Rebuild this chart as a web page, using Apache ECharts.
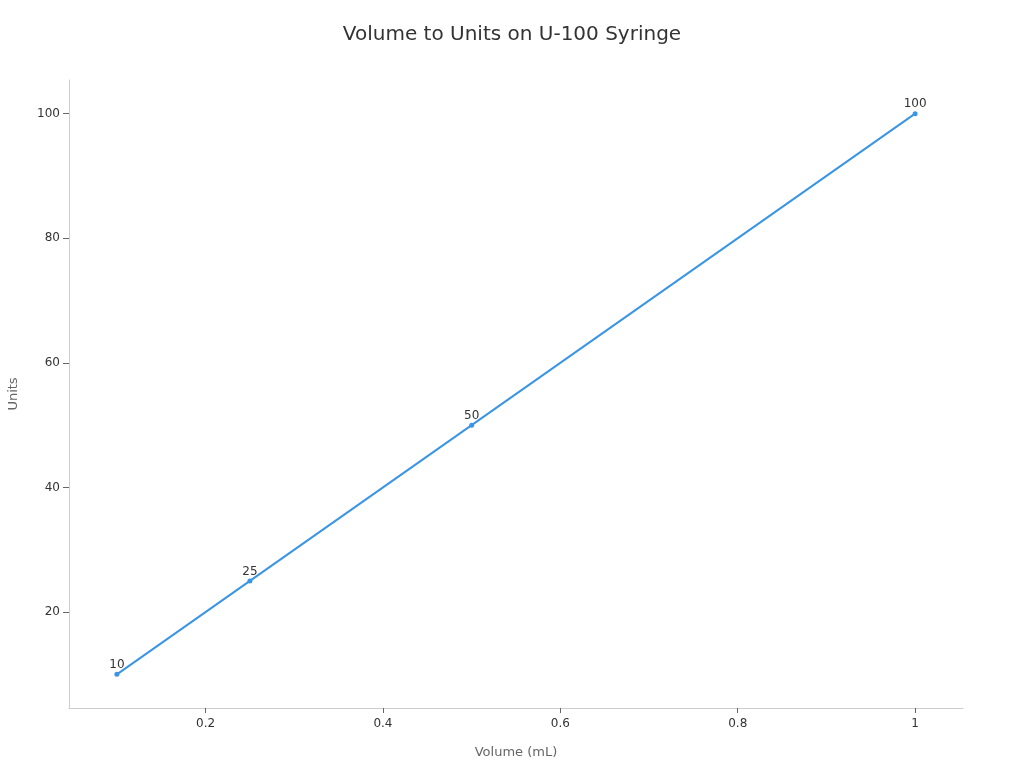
<!DOCTYPE html>
<html>
<head>
<meta charset="utf-8">
<script src="https://cdn.jsdelivr.net/npm/echarts@6/dist/echarts.min.js"></script>
<style>
  html, body { margin: 0; padding: 0; background: #fff; }
  #chart { width: 1024px; height: 768px; }
</style>
</head>
<body>
<div id="chart"></div>
<script>
// 数据：U-100 注射器的容量与单位
const volumes = [0.1, 0.25, 0.5, 1];
const units = [10, 25, 50, 100];
const xTicks = [0.2, 0.4, 0.6, 0.8, 1];
const yTicks = [20, 40, 60, 80, 100];

const chart = echarts.init(document.getElementById('chart'));

const option = {
  backgroundColor: '#ffffff',
  animation: false,
  textStyle: { fontFamily: 'DejaVu Sans' },
  title: {
    text: 'Volume to Units on U-100 Syringe',
    left: 'center',
    top: 20,
    textStyle: { fontSize: 20, fontWeight: 'normal', color: '#333' }
  },
  grid: { left: 69, right: 61, top: 80, bottom: 60, outerBoundsMode: 'none', containLabel: false },
  xAxis: {
    type: 'value',
    min: 0.046,
    max: 1.054,
    interval: 0.2,
    name: 'Volume (mL)',
    nameLocation: 'middle',
    nameGap: 38,
    nameTextStyle: { fontSize: 13, color: '#666' },
    axisLine: { show: true, lineStyle: { color: '#ccc' } },
    axisTick: { show: true, length: 5, lineStyle: { color: '#666' }, customValues: xTicks },
    axisLabel: { color: '#333', fontSize: 12, margin: 10, customValues: xTicks },
    splitLine: { show: false }
  },
  yAxis: {
    type: 'value',
    min: 4.6,
    max: 105.4,
    name: 'Units',
    nameLocation: 'middle',
    nameGap: 49,
    nameTextStyle: { fontSize: 13, color: '#666' },
    axisLine: { show: true, lineStyle: { color: '#ccc' } },
    axisTick: { show: true, length: 6, lineStyle: { color: '#666' }, customValues: yTicks },
    axisLabel: { color: '#333', fontSize: 12, margin: 9, customValues: yTicks },
    splitLine: { show: false }
  },
  series: [
    {
      type: 'line',
      data: volumes.map((v, i) => [v, units[i]]),
      symbol: 'circle',
      symbolSize: 5,
      itemStyle: { color: '#3a95e4' },
      lineStyle: { width: 2, color: '#3a95e4' },
      label: {
        show: true,
        position: 'top',
        distance: 1,
        color: '#333',
        fontSize: 12,
        formatter: p => p.value[1]
      }
    }
  ]
};

chart.setOption(option);
</script>
</body>
</html>
